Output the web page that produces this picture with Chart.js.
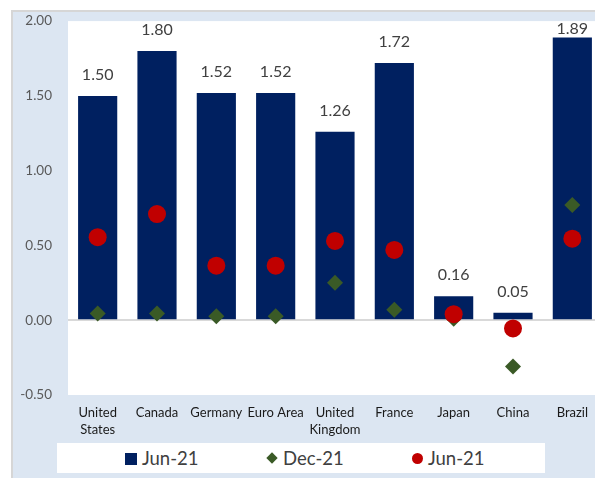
<!DOCTYPE html>
<html>
<head>
<meta charset="utf-8">
<script src="https://cdn.jsdelivr.net/npm/chart.js@4/dist/chart.umd.min.js"></script>
<style>
  html, body { margin: 0; padding: 0; background: #fff; overflow: hidden; width: 595px; height: 478px; }
  #frame { position: absolute; left: 11px; top: 10px; width: 602px; height: 470px; background: #dce6f2;
           border-left: 2px solid #d6d6d6; border-top: 2px solid #d6d6d6; overflow: hidden; }
  #chart { position: absolute; left: 0; top: -15px; }
  #legend { position: absolute; left: 44px; top: 431px; width: 488px; height: 30px; background: #fff;
            font-family: Lato, "Open Sans", sans-serif; font-size: 18.5px; color: #404040; }
  .item { position: absolute; top: 0; height: 30px; line-height: 30px; }
  .sq { position: absolute; top: 10px; width: 12px; height: 12px; background: #002060; }
  .dia { position: absolute; top: 11px; width: 8px; height: 8px; background: #3a5a26; transform: rotate(45deg); }
  .dot { position: absolute; top: 10px; width: 11px; height: 11px; border-radius: 50%; background: #c00000; }
</style>
</head>
<body>
<div id="frame">
  <canvas id="chart" width="600" height="481"></canvas>
  <div id="legend">
    <div class="sq" style="left:68px"></div><div class="item" style="left:85px">Jun-21</div>
    <div class="dia" style="left:211px"></div><div class="item" style="left:226px">Dec-21</div>
    <div class="dot" style="left:355px"></div><div class="item" style="left:371px">Jun-21</div>
  </div>
</div>
<script>
const categories = [['United', 'States'], 'Canada', 'Germany', 'Euro Area', ['United', 'Kingdom'], 'France', 'Japan', 'China', 'Brazil'];
const barJun21 = [1.50, 1.80, 1.52, 1.52, 1.26, 1.72, 0.16, 0.05, 1.89];
const dec21 = [0.045, 0.045, 0.027, 0.027, 0.25, 0.07, 0.01, -0.31, 0.77];
const jun21 = [0.555, 0.71, 0.365, 0.365, 0.53, 0.47, 0.04, -0.055, 0.545];
const yTicks = [-0.5, 0, 0.5, 1, 1.5, 2];

const FONT = 'Lato, "Open Sans", sans-serif';

// white plot area, running off the right edge like the original
const bgPlugin = {
  id: 'bg',
  beforeDraw(chart) {
    const { ctx, chartArea: a } = chart;
    ctx.save();
    ctx.fillStyle = '#ffffff';
    ctx.fillRect(a.left, a.top, chart.width - a.left, a.bottom - a.top);
    ctx.restore();
  }
};

const valueLabels = {
  id: 'valueLabels',
  afterDatasetsDraw(chart) {
    const { ctx, chartArea: a } = chart;
    const meta = chart.getDatasetMeta(0);
    ctx.save();
    ctx.font = '16px ' + FONT;
    ctx.fillStyle = '#404040';
    ctx.textAlign = 'center';
    ctx.textBaseline = 'middle';
    meta.data.forEach((bar, i) => {
      const y = Math.max(bar.y - 21, a.top + 8);
      ctx.fillText(barJun21[i].toFixed(2), bar.x, y);
    });
    ctx.restore();
  }
};

new Chart(document.getElementById('chart'), {
  type: 'bar',
  data: {
    labels: categories,
    datasets: [
      { type: 'bar', label: 'Jun-21', data: barJun21, backgroundColor: '#002060',
        categoryPercentage: 1, barPercentage: 0.66, order: 3 },
      { type: 'line', label: 'Dec-21', data: dec21, showLine: false, pointStyle: 'rectRot',
        pointRadius: 8, pointHoverRadius: 8, backgroundColor: '#3a5a26', borderColor: '#3a5a26', borderWidth: 0, order: 2 },
      { type: 'line', label: 'Jun-21', data: jun21, showLine: false, pointStyle: 'circle',
        pointRadius: 9, pointHoverRadius: 9, backgroundColor: '#c00000', borderColor: '#c00000', borderWidth: 0, order: 1 }
    ]
  },
  options: {
    responsive: false,
    animation: false,
    devicePixelRatio: 1,
    layout: { padding: { top: 8, right: 11, left: 0, bottom: 0 } },
    plugins: { legend: { display: false }, tooltip: { enabled: false } },
    scales: {
      x: {
        offset: true,
        grid: { display: false, drawTicks: false },
        border: { display: false },
        ticks: { color: '#1a1a1a', font: { family: FONT, size: 13, lineHeight: 1.25 }, padding: 10, maxRotation: 0, autoSkip: false },
        afterFit(scale) { scale.height = 83; }
      },
      y: {
        min: -0.5, max: 2,
        afterBuildTicks(scale) { scale.ticks = yTicks.map(v => ({ value: v })); },
        grid: { drawTicks: false, lineWidth: 2,
                color: c => (c.tick && c.tick.value === 0 ? '#d9d9d9' : 'rgba(0,0,0,0)') },
        border: { display: false },
        ticks: { color: '#595959', font: { family: FONT, size: 13.5 }, padding: 16,
                 callback: v => Number(v).toFixed(2) },
        afterFit(scale) { scale.width = 55; }
      }
    }
  },
  plugins: [bgPlugin, valueLabels]
});
</script>
</body>
</html>
